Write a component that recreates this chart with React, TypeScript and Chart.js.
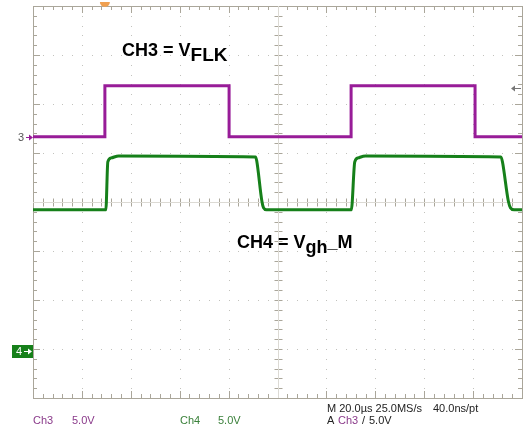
import React, { useEffect, useRef } from "react";
import { Chart, registerables } from "chart.js";

Chart.register(...registerables);

// ---- Data (time in µs, voltages in V) ----
const ch3TimeUs = [0, 29.4, 29.4, 80.2, 80.2, 130.1, 130.1, 180.8, 180.8, 200];
const ch3Volts = [0, 0, 5.2, 5.2, 0, 0, 5.2, 5.2, 0, 0];

const ch4TimeUs = [0, 29.8, 30.6, 32.0, 35.0, 91.0, 91.5, 93.6, 94.3, 95.5, 130.2, 131.6, 133.0, 136.0, 191.4, 192.0, 194.4, 195.3, 196.8, 200];
const ch4Volts = [14.4, 14.4, 19.3, 19.7, 19.9, 19.8, 19.4, 15.3, 14.6, 14.4, 14.4, 19.3, 19.7, 19.9, 19.8, 19.3, 15.3, 14.6, 14.4, 14.4];

// ---- Scope settings ----
const TIME_PER_DIV = 20; // µs
const H_DIVS = 10;
const V_DIVS = 8;
const MINOR_PER_DIV = 5;
const CH3_VOLTS_PER_DIV = 5;
const CH4_VOLTS_PER_DIV = 5;
const CH3_POSITION_DIV = 1.33;
const CH4_POSITION_DIV = -3.04;
const TRIGGER_LEVEL = 5.0;
const TRIGGER_TIME = 29.4;

const statusLeft = ["Ch3", "5.0V", "Ch4", "5.0V"];
const timebaseText = ["M 20.0\u00b5s 25.0MS/s", "40.0ns/pt"];
const triggerText = ["A", "Ch3", "/", "5.0V"];

const PURPLE = "#981c98";
const GREEN = "#16801a";
const GRID = "#c2c2bd";
const BORDER = "#aaa69a";

const scopePlugin = {
  id: "scopeGrid",
  beforeDatasetsDraw(chart: any) {
    const { ctx, chartArea } = chart;
    const { left, right, top, bottom } = chartArea;
    const xs = chart.scales.x;
    const yd = chart.scales.ydiv;
    ctx.save();
    const X = (v: number) => Math.round(xs.getPixelForValue(v)) + 0.5;
    const Y = (v: number) => Math.round(yd.getPixelForValue(v)) + 0.5;
    const xMinor = TIME_PER_DIV / MINOR_PER_DIV;
    // dotted grid
    ctx.fillStyle = GRID;
    for (let i = 1; i < H_DIVS; i++) {
      const px = X(i * TIME_PER_DIV) - 0.5;
      for (let j = 0; j <= V_DIVS * MINOR_PER_DIV; j++) {
        const py = Y(-V_DIVS / 2 + j / MINOR_PER_DIV) - 0.5;
        ctx.fillRect(px, py, 1, 1);
      }
    }
    for (let i = 1; i < V_DIVS; i++) {
      const py = Y(-V_DIVS / 2 + i) - 0.5;
      for (let j = 0; j <= H_DIVS * MINOR_PER_DIV; j++) {
        const px = X(j * xMinor) - 0.5;
        ctx.fillRect(px, py, 1, 1);
      }
    }
    // border
    ctx.strokeStyle = BORDER;
    ctx.lineWidth = 1;
    ctx.strokeRect(Math.round(left) + 0.5, Math.round(top) + 0.5, Math.round(right - left), Math.round(bottom - top));
    // ticks
    ctx.beginPath();
    const cx = X((H_DIVS / 2) * TIME_PER_DIV);
    const cy = Y(0);
    for (let j = 1; j < H_DIVS * MINOR_PER_DIV; j++) {
      const px = X(j * xMinor);
      const major = j % MINOR_PER_DIV === 0;
      const len = major ? 7 : 4;
      ctx.moveTo(px, Math.round(top)); ctx.lineTo(px, Math.round(top) + len);
      ctx.moveTo(px, Math.round(bottom)); ctx.lineTo(px, Math.round(bottom) - len);
      ctx.moveTo(px, cy - 4); ctx.lineTo(px, cy + 4);
    }
    for (let j = 1; j < V_DIVS * MINOR_PER_DIV; j++) {
      const py = Y(-V_DIVS / 2 + j / MINOR_PER_DIV);
      const major = j % MINOR_PER_DIV === 0;
      const len = major ? 7 : 4;
      ctx.moveTo(Math.round(left), py); ctx.lineTo(Math.round(left) + len, py);
      ctx.moveTo(Math.round(right), py); ctx.lineTo(Math.round(right) - len, py);
      ctx.moveTo(cx - 4, py); ctx.lineTo(cx + 4, py);
    }
    ctx.stroke();
    // faint center lines
    ctx.strokeStyle = "#dcdad4";
    ctx.beginPath();
    ctx.moveTo(left, cy); ctx.lineTo(right, cy);
    ctx.moveTo(cx, top); ctx.lineTo(cx, bottom);
    ctx.stroke();
    ctx.restore();
  },
  afterDraw(chart: any) {
    const { ctx, chartArea } = chart;
    const { left, right, top } = chartArea;
    const xs = chart.scales.x;
    const y3 = chart.scales.y3;
    const y4 = chart.scales.y4;
    ctx.save();
    // channel 3 ground marker
    const g3 = Math.round(y3.getPixelForValue(0)) + 0.5;
    ctx.font = "11px Arial, 'Liberation Sans', sans-serif";
    ctx.textBaseline = "middle";
    ctx.fillStyle = "#555";
    ctx.fillText("3", 18, g3);
    ctx.strokeStyle = PURPLE;
    ctx.fillStyle = PURPLE;
    ctx.lineWidth = 1;
    ctx.beginPath(); ctx.moveTo(26, g3); ctx.lineTo(left - 2, g3); ctx.stroke();
    ctx.beginPath(); ctx.moveTo(left, g3); ctx.lineTo(left - 4, g3 - 3); ctx.lineTo(left - 4, g3 + 3); ctx.closePath(); ctx.fill();
    // channel 4 ground marker
    const g4 = Math.round(y4.getPixelForValue(0));
    ctx.fillStyle = GREEN;
    ctx.fillRect(12, g4 - 6, left - 12, 13);
    ctx.fillStyle = "#fff";
    ctx.fillText("4", 16, g4 + 1);
    ctx.strokeStyle = "#fff";
    ctx.beginPath(); ctx.moveTo(24, g4 + 0.5); ctx.lineTo(left - 3, g4 + 0.5); ctx.stroke();
    ctx.beginPath(); ctx.moveTo(left - 1, g4 + 0.5); ctx.lineTo(left - 5, g4 - 2.5); ctx.lineTo(left - 5, g4 + 3.5); ctx.closePath(); ctx.fill();
    // trigger level marker
    const tl = Math.round(y3.getPixelForValue(TRIGGER_LEVEL)) + 0.5;
    ctx.strokeStyle = "#777";
    ctx.fillStyle = "#777";
    ctx.beginPath(); ctx.moveTo(right - 1, tl); ctx.lineTo(right - 8, tl); ctx.stroke();
    ctx.beginPath(); ctx.moveTo(right - 11, tl); ctx.lineTo(right - 7, tl - 3); ctx.lineTo(right - 7, tl + 3); ctx.closePath(); ctx.fill();
    // trigger position marker
    const tx = xs.getPixelForValue(TRIGGER_TIME);
    ctx.fillStyle = "#f0a050";
    ctx.beginPath();
    ctx.arc(tx, top - 4, 5, 0, Math.PI);
    ctx.fill();
    ctx.restore();
  },
};

export default function App() {
  const canvasRef = useRef<HTMLCanvasElement | null>(null);

  useEffect(() => {
    const canvas = canvasRef.current;
    if (!canvas) return;
    const half = V_DIVS / 2;
    const chart = new Chart(canvas, {
      type: "line",
      data: {
        datasets: [
          {
            label: "CH3",
            data: ch3TimeUs.map((t, i) => ({ x: t, y: ch3Volts[i] })),
            xAxisID: "x",
            yAxisID: "y3",
            borderColor: PURPLE,
            borderWidth: 3,
            pointRadius: 0,
            tension: 0,
          },
          {
            label: "CH4",
            data: ch4TimeUs.map((t, i) => ({ x: t, y: ch4Volts[i] })),
            xAxisID: "x",
            yAxisID: "y4",
            borderColor: GREEN,
            borderWidth: 3,
            pointRadius: 0,
            cubicInterpolationMode: "monotone",
          },
        ],
      },
      options: {
        responsive: false,
        animation: false,
        devicePixelRatio: 1,
        layout: { padding: { left: 33, top: 6, right: 4, bottom: 33 } },
        plugins: { legend: { display: false }, tooltip: { enabled: false } },
        events: [],
        scales: {
          x: { type: "linear", display: false, min: 0, max: H_DIVS * TIME_PER_DIV },
          ydiv: { type: "linear", display: false, min: -half, max: half },
          y3: {
            type: "linear",
            display: false,
            min: (-half - CH3_POSITION_DIV) * CH3_VOLTS_PER_DIV,
            max: (half - CH3_POSITION_DIV) * CH3_VOLTS_PER_DIV,
          },
          y4: {
            type: "linear",
            display: false,
            min: (-half - CH4_POSITION_DIV) * CH4_VOLTS_PER_DIV,
            max: (half - CH4_POSITION_DIV) * CH4_VOLTS_PER_DIV,
          },
        },
      } as any,
      plugins: [scopePlugin],
    });
    return () => chart.destroy();
  }, []);

  const base: React.CSSProperties = { position: "absolute", lineHeight: 1, whiteSpace: "nowrap" };
  const status: React.CSSProperties = { ...base, fontSize: 11, fontFamily: "Arial, 'Liberation Sans', sans-serif" };
  const big: React.CSSProperties = { ...base, fontSize: 18, fontWeight: "bold", fontFamily: "Arial, 'Liberation Sans', sans-serif", color: "#000" };

  return (
    <div style={{ position: "fixed", left: 0, top: 0, width: 526, height: 431, background: "#fff", overflow: "hidden" }}>
      <canvas ref={canvasRef} width={526} height={431} style={{ position: "absolute", left: 0, top: 0, width: 526, height: 431 }} />
      <div style={{ ...big, left: 122, top: 40 }}>
        CH3 = V<span style={{ position: "relative", top: 5, fontSize: 19 }}>FLK</span>
      </div>
      <div style={{ ...big, left: 237, top: 233 }}>
        CH4 = V<span style={{ position: "relative", top: 5 }}>gh</span>_M
      </div>
      <div style={{ ...status, left: 33, top: 415, color: "#8a3a8a" }}>{statusLeft[0]}</div>
      <div style={{ ...status, left: 72, top: 415, color: "#8a3a8a" }}>{statusLeft[1]}</div>
      <div style={{ ...status, left: 180, top: 415, color: "#3a803a" }}>{statusLeft[2]}</div>
      <div style={{ ...status, left: 218, top: 415, color: "#3a803a" }}>{statusLeft[3]}</div>
      <div style={{ ...status, left: 327, top: 403, color: "#222" }}>{timebaseText[0]}</div>
      <div style={{ ...status, left: 433, top: 403, color: "#222" }}>{timebaseText[1]}</div>
      <div style={{ ...status, left: 327, top: 415, color: "#222" }}>{triggerText[0]}</div>
      <div style={{ ...status, left: 338, top: 415, color: "#8a3a8a" }}>{triggerText[1]}</div>
      <div style={{ ...status, left: 362, top: 415, color: "#222" }}>{triggerText[2]}</div>
      <div style={{ ...status, left: 369, top: 415, color: "#222" }}>{triggerText[3]}</div>
    </div>
  );
}
